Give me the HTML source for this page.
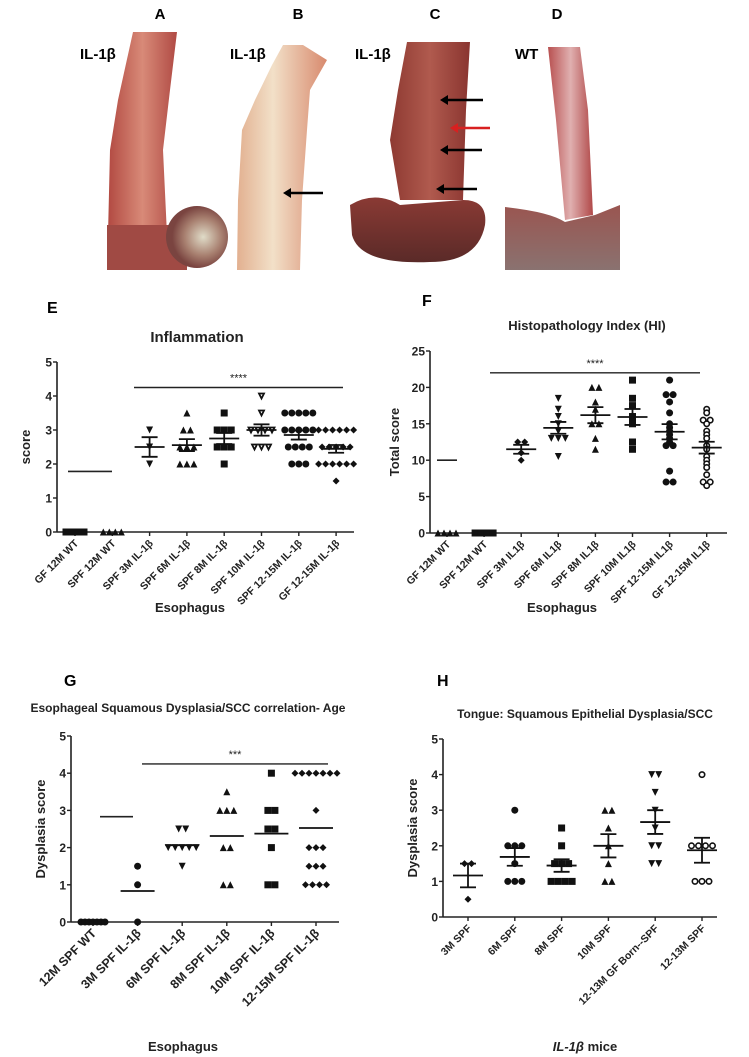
<!DOCTYPE html>
<html><head><meta charset="utf-8">
<style>
html,body{margin:0;padding:0;background:#fff;}
svg{display:block;font-family:"Liberation Sans",Arial,sans-serif;}
</style></head>
<body>
<svg id="fig" width="749" height="1057" viewBox="0 0 749 1057" xmlns="http://www.w3.org/2000/svg">
<defs>
<linearGradient id="gA" x1="0" x2="1"><stop offset="0" stop-color="#b24a42"/><stop offset=".5" stop-color="#d88a78"/><stop offset="1" stop-color="#b04a44"/></linearGradient>
<linearGradient id="gB" x1="0" x2="1"><stop offset="0" stop-color="#e2b090"/><stop offset=".4" stop-color="#f2e0c8"/><stop offset="1" stop-color="#d88a6e"/></linearGradient>
<linearGradient id="gC" x1="0" x2="1"><stop offset="0" stop-color="#8e3a32"/><stop offset=".5" stop-color="#b05a4e"/><stop offset="1" stop-color="#8a3530"/></linearGradient>
<linearGradient id="gD" x1="0" x2="1"><stop offset="0" stop-color="#b85050"/><stop offset=".5" stop-color="#e0b0b0"/><stop offset="1" stop-color="#b04848"/></linearGradient>
<radialGradient id="gS" cx=".6" cy=".5"><stop offset="0" stop-color="#e0dcc8"/><stop offset=".6" stop-color="#a88070"/><stop offset="1" stop-color="#7a4440"/></radialGradient>
<linearGradient id="gSC" x1="0" y1="0" x2="0" y2="1"><stop offset="0" stop-color="#8a3a34"/><stop offset="1" stop-color="#5a2a28"/></linearGradient>
<linearGradient id="gSD" x1="0" y1="0" x2="0" y2="1"><stop offset="0" stop-color="#9a5550"/><stop offset="1" stop-color="#8a7270"/></linearGradient>
</defs>
<g font-weight="bold">
<g font-size="15">
<text x="160" y="19" text-anchor="middle">A</text>
<text x="298" y="19" text-anchor="middle">B</text>
<text x="435" y="19" text-anchor="middle">C</text>
<text x="557" y="19" text-anchor="middle">D</text>
</g>
<g>
<path d="M133,32 L177,32 L170,90 L163,150 L167,235 L108,235 L110,150 L118,100 Z" fill="url(#gA)"/>
<rect x="107" y="225" width="80" height="45" fill="#a04a44"/>
<circle cx="197" cy="237" r="31" fill="url(#gS)"/>
</g>
<g>
<path d="M283,45 L303,45 L327,60 L310,90 L307,130 L302,200 L300,270 L237,270 L238,200 L242,130 L255,100 L272,65 Z" fill="url(#gB)"/>
</g>
<g>
<path d="M407,42 L470,42 L466,110 L463,200 L400,200 L390,140 L398,90 Z" fill="url(#gC)"/>
<path d="M350,205 Q375,190 400,205 L463,200 Q488,200 485,225 Q478,262 430,262 Q360,265 352,235 Z" fill="url(#gSC)"/>
</g>
<g>
<path d="M548,47 L580,47 L588,110 L593,215 L565,220 L556,120 Z" fill="url(#gD)"/>
<path d="M505,207 Q550,212 565,222 L595,215 L620,205 L620,270 L505,270 Z" fill="url(#gSD)"/>
</g>
<g font-size="15">
<text x="80" y="59">IL-1β</text>
<text x="230" y="59">IL-1β</text>
<text x="355" y="59">IL-1β</text>
<text x="515" y="59">WT</text>
</g>
</g>
<g id="arrows"></g>
<g id="charts"></g>
</svg>
<script>
// ---------- Panel E: Inflammation ----------
const eCats = ["GF  12M WT","SPF  12M WT","SPF 3M IL-1β","SPF 6M IL-1β","SPF 8M IL-1β","SPF 10M IL-1β","SPF 12-15M IL-1β","GF 12-15M IL-1β"];
const eTicks = [0,1,2,3,4,5];
const eVals = [
 [0,0,0,0],
 [0,0,0,0],
 [3,2.5,2],
 [3.5,3,3,2.5,2.5,2.5,2,2,2],
 [3.5,3,3,3,2.5,2.5,2.5,2],
 [4,3.5,3,3,3,3,2.5,2.5,2.5],
 [3.5,3.5,3.5,3.5,3.5,3,3,3,3,3,2.5,2.5,2.5,2.5,2,2,2],
 [3,3,3,3,3,3,2.5,2.5,2.5,2.5,2.5,2,2,2,2,2,2,1.5]
];
const eShapes = ["sq","tri","dtri","tri","sq","odtri","circ","dia"];
const eRefLine = 1.78;
const eSig = 4.25;

// ---------- Panel F: Histopathology Index ----------
const fCats = ["GF 12M WT","SPF 12M  WT","SPF 3M IL1β","SPF 6M IL1β","SPF 8M IL1β","SPF 10M IL1β","SPF 12-15M IL1β","GF 12-15M IL1β"];
const fTicks = [0,5,10,15,20,25];
const fVals = [
 [0,0,0,0],
 [0,0,0,0],
 [12.5,12.5,11,10],
 [18.5,17,16,15,14,13,13,13,10.5],
 [20,20,18,17,15,15,13,11.5],
 [21,18.5,17.5,16,15.5,15,12.5,11.5],
 [21,19,19,18,16.5,15,14.5,14,13.5,13,12.5,12,12,8.5,7,7],
 [17,16.5,15.5,15.5,15,14,13.5,13,12,11.5,10.5,10,9.5,9,8,7,7,6.5]
];
const fShapes = ["tri","sq","dia","dtri","tri","sq","circ","ocirc"];
const fRefLine = 10;
const fSig = 22;

// ---------- Panel G: Esophageal dysplasia ----------
const gCats = ["12M SPF WT","3M  SPF IL-1β","6M SPF IL-1β","8M SPF IL-1β","10M SPF IL-1β","12-15M SPF IL-1β"];
const gTicks = [0,1,2,3,4,5];
const gVals = [
 [0,0,0,0,0,0,0],
 [1.5,1,0],
 [2.5,2.5,2,2,2,2,2,1.5],
 [3.5,3,3,3,2,2,1,1],
 [4,3,3,2.5,2.5,2,1,1],
 [4,4,4,4,4,4,4,3,2,2,2,1.5,1.5,1.5,1,1,1,1]
];
const gShapes = ["circ","circ","dtri","tri","sq","dia"];
const gRefLine = 2.83;
const gSig = 4.25;

// ---------- Panel H: Tongue dysplasia ----------
const hCats = ["3M SPF","6M SPF","8M SPF","10M SPF","12-13M GF Born--SPF","12-13M SPF"];
const hTicks = [0,1,2,3,4,5];
const hVals = [
 [1.5,1.5,0.5],
 [3,2,2,2,1.5,1,1,1],
 [2.5,2,1.5,1.5,1.5,1,1,1,1],
 [3,3,2.5,2,1.5,1,1],
 [4,4,3.5,3,2.5,2,2,1.5,1.5],
 [4,2,2,2,2,1,1,1]
];
const hShapes = ["dia","circ","sq","tri","dtri","ocirc"];

const NS="http://www.w3.org/2000/svg";
const root=document.getElementById('charts');
function mk(tag,attrs,parent){const e=document.createElementNS(NS,tag);for(const k in attrs)e.setAttribute(k,attrs[k]);(parent||root).appendChild(e);return e;}

function marker(g,shape,x,y,s){
  let e;
  const h=s/2;
  if(shape==="sq"){e=mk('rect',{x:x-h,y:y-h,width:s,height:s,fill:'#111'},g);}
  else if(shape==="circ"){e=mk('circle',{cx:x,cy:y,r:h,fill:'#111'},g);}
  else if(shape==="ocirc"){e=mk('circle',{cx:x,cy:y,r:h-0.8,fill:'#fff',stroke:'#111','stroke-width':1.6},g);}
  else if(shape==="tri"){e=mk('polygon',{points:`${x},${y-h} ${x-h},${y+h} ${x+h},${y+h}`,fill:'#111'},g);}
  else if(shape==="dtri"){e=mk('polygon',{points:`${x},${y+h} ${x-h},${y-h} ${x+h},${y-h}`,fill:'#111'},g);}
  else if(shape==="odtri"){e=mk('polygon',{points:`${x},${y+h-1} ${x-h+1},${y-h+1} ${x+h-1},${y-h+1}`,fill:'#fff',stroke:'#111','stroke-width':1.8},g);}
  else {e=mk('polygon',{points:`${x},${y-h} ${x+h},${y} ${x},${y+h} ${x-h},${y}`,fill:'#111'},g);}
  
  
}

function panel(o){
  const g=mk('g',{});
  
  
  const ymax=o.ticks[o.ticks.length-1];
  const Y=v=>o.y0-(v/ymax)*(o.y0-o.y5);
  const X=i=>o.xs0+i*o.dx;
  const L=mk('text',{x:o.letX,y:o.letY,'font-size':16,'font-weight':'bold'},g);L.textContent=o.letter;
  
  const T=mk('text',{x:o.titleX,y:o.titleY,'font-size':o.titleSize,'font-weight':'bold','text-anchor':'middle',fill:'#222'},g);T.textContent=o.title;
  
  const ya=mk('line',{x1:o.ax,y1:o.y5,x2:o.ax,y2:o.y0,stroke:'#222','stroke-width':1.6},g);
  
  const xa=mk('line',{x1:o.ax,y1:o.y0,x2:o.axEnd,y2:o.y0,stroke:'#222','stroke-width':1.6},g);
  
  o.ticks.forEach(t=>{
    mk('line',{x1:o.ax-4,y1:Y(t),x2:o.ax,y2:Y(t),stroke:'#222','stroke-width':1.4},g);
    const tl=mk('text',{x:o.ax-5,y:Y(t)+4.5,'font-size':12,'font-weight':'bold','text-anchor':'end',fill:'#222'},g);tl.textContent=t;
    
  });
  const yt=mk('text',{x:0,y:0,'font-size':13,'font-weight':'bold','text-anchor':'middle',transform:`translate(${o.ytX},${(o.y0+o.y5)/2}) rotate(-90)`,fill:'#222'},g);yt.textContent=o.ytitle;
  
  o.cats.forEach((c,i)=>{
    const x=X(i);
    mk('line',{x1:x,y1:o.y0,x2:x,y2:o.y0+4,stroke:'#222','stroke-width':1.4},g);
    const tl=mk('text',{x:0,y:0,'font-size':o.xfs||10.5,'font-weight':'bold','text-anchor':'end',transform:`translate(${x+4},${o.y0+12}) rotate(-45)`,fill:'#222'},g);tl.textContent=c;
    
  });
  const xt=mk('text',{x:o.xtX,y:o.xtY,'font-size':13,'font-weight':'bold','text-anchor':'middle','font-style':o.xtItalic?'italic':'normal',fill:'#222'},g);
  if(o.xtItalic){xt.innerHTML='IL-1β <tspan font-style="normal">mice</tspan>';}else xt.textContent=o.xtitle;
  
  if(o.sig!=null){
    const sl=mk('line',{x1:o.sigX1,y1:Y(o.sig),x2:o.sigX2,y2:Y(o.sig),stroke:'#222','stroke-width':1.4},g);
    
    const st=mk('text',{x:(o.sigX1+o.sigX2)/2,y:Y(o.sig)-6,'font-size':11,'text-anchor':'middle',fill:'#222'},g);st.textContent=o.sigText;
    
  }
  if(o.ref!=null){
    const rl=mk('line',{x1:o.refX1,y1:Y(o.ref),x2:o.refX2,y2:Y(o.ref),stroke:'#222','stroke-width':1.6},g);
    
  }
  o.vals.forEach((arr,i)=>{
    const gg=mk('g',{},g);
    
    
    const cnt={};arr.forEach(v=>cnt[v]=(cnt[v]||0)+1);
    const idx={};
    arr.forEach(v=>{
      const n=cnt[v];const k=idx[v]=(idx[v]===undefined?0:idx[v]+1);
      const step=o.zeroStep&&v===0?o.zeroStep:o.step;
      const x=X(i)+(k-(n-1)/2)*step;
      marker(gg,o.shapes[i],x,Y(v),o.ms);
    });
    if(o.skipStats&&o.skipStats.includes(i))return;
    const n=arr.length;const m=arr.reduce((a,b)=>a+b,0)/n;
    const sd=Math.sqrt(arr.reduce((a,b)=>a+(b-m)*(b-m),0)/(n-1));const se=sd/Math.sqrt(n);
    const ml=mk('line',{x1:X(i)-o.mw/2,y1:Y(m),x2:X(i)+o.mw/2,y2:Y(m),stroke:'#111','stroke-width':1.8},gg);
    
    if(o.sem){
      mk('line',{x1:X(i),y1:Y(m-se),x2:X(i),y2:Y(m+se),stroke:'#111','stroke-width':1.8},gg);
      mk('line',{x1:X(i)-8,y1:Y(m-se),x2:X(i)+8,y2:Y(m-se),stroke:'#111','stroke-width':1.8},gg);
      mk('line',{x1:X(i)-8,y1:Y(m+se),x2:X(i)+8,y2:Y(m+se),stroke:'#111','stroke-width':1.8},gg);
    }
  });
}

panel({name:'chart-e-inflammation',letter:'E',letX:47,letY:313,title:'Inflammation',titleX:197,titleY:342,titleSize:15,
 ax:57,axEnd:354,y0:532,y5:362,ticks:eTicks,cats:eCats,xs0:75,dx:37.3,vals:eVals,shapes:eShapes,ms:7,step:7,zeroStep:6,mw:30,sem:true,
 ytitle:'score',ytX:30,xtitle:'Esophagus',xtX:190,xtY:612,sig:eSig,sigText:'****',sigX1:134,sigX2:343,
 ref:eRefLine,refX1:68,refX2:112,skipStats:[0,1]});
panel({name:'chart-f-histopathology-index',letter:'F',letX:422,letY:306,title:'Histopathology Index (HI)',titleX:587,titleY:330,titleSize:13,
 ax:430,axEnd:727,y0:533,y5:351,ticks:fTicks,cats:fCats,xs0:447,dx:37.1,vals:fVals,shapes:fShapes,ms:7,step:7,zeroStep:6,mw:30,sem:true,
 ytitle:'Total score',ytX:399,xtitle:'Esophagus',xtX:562,xtY:612,sig:fSig,sigText:'****',sigX1:490,sigX2:700,
 ref:fRefLine,refX1:437,refX2:457,skipStats:[0,1]});
panel({name:'chart-g-esophageal-dysplasia',letter:'G',letX:64,letY:686,title:'Esophageal Squamous Dysplasia/SCC correlation- Age',titleX:188,titleY:712,titleSize:12,
 ax:71,axEnd:339,y0:922,y5:736,ticks:gTicks,cats:gCats,xs0:93,dx:44.6,vals:gVals,shapes:gShapes,ms:7,step:7,zeroStep:4,mw:34,sem:false,xfs:12.5,
 ytitle:'Dysplasia score',ytX:45,xtitle:'Esophagus',xtX:183,xtY:1051,sig:gSig,sigText:'***',sigX1:142,sigX2:328,
 ref:gRefLine,refX1:100,refX2:133,skipStats:[0]});
panel({name:'chart-h-tongue-dysplasia',letter:'H',letX:437,letY:686,title:'Tongue: Squamous Epithelial Dysplasia/SCC',titleX:585,titleY:718,titleSize:12,
 ax:443,axEnd:717,y0:917,y5:739,ticks:hTicks,cats:hCats,xs0:468,dx:46.8,vals:hVals,shapes:hShapes,ms:7,step:7,mw:30,sem:true,
 ytitle:'Dysplasia score',ytX:417,xtitle:'IL-1β mice',xtItalic:true,xtX:585,xtY:1051,sig:null,ref:null});

// arrows on photos: [x-start(tail), y, x-head, colour]
const arrowDefs=[[323,193,283,'#000'],[483,100,440,'#000'],[490,128,450,'#d82020'],[482,150,440,'#000'],[477,189,436,'#000']];
const ag=document.getElementById('arrows');
arrowDefs.forEach(a=>{
  const l=document.createElementNS(NS,'line');
  l.setAttribute('x1',a[0]);l.setAttribute('y1',a[1]);l.setAttribute('x2',a[2]+6);l.setAttribute('y2',a[1]);
  l.setAttribute('stroke',a[3]);l.setAttribute('stroke-width',2.5);
  
  
  ag.appendChild(l);
  const p=document.createElementNS(NS,'polygon');
  p.setAttribute('points',`${a[2]},${a[1]} ${a[2]+8},${a[1]-5} ${a[2]+8},${a[1]+5}`);p.setAttribute('fill',a[3]);
  
  
  ag.appendChild(p);
});
</script>
</body></html>
